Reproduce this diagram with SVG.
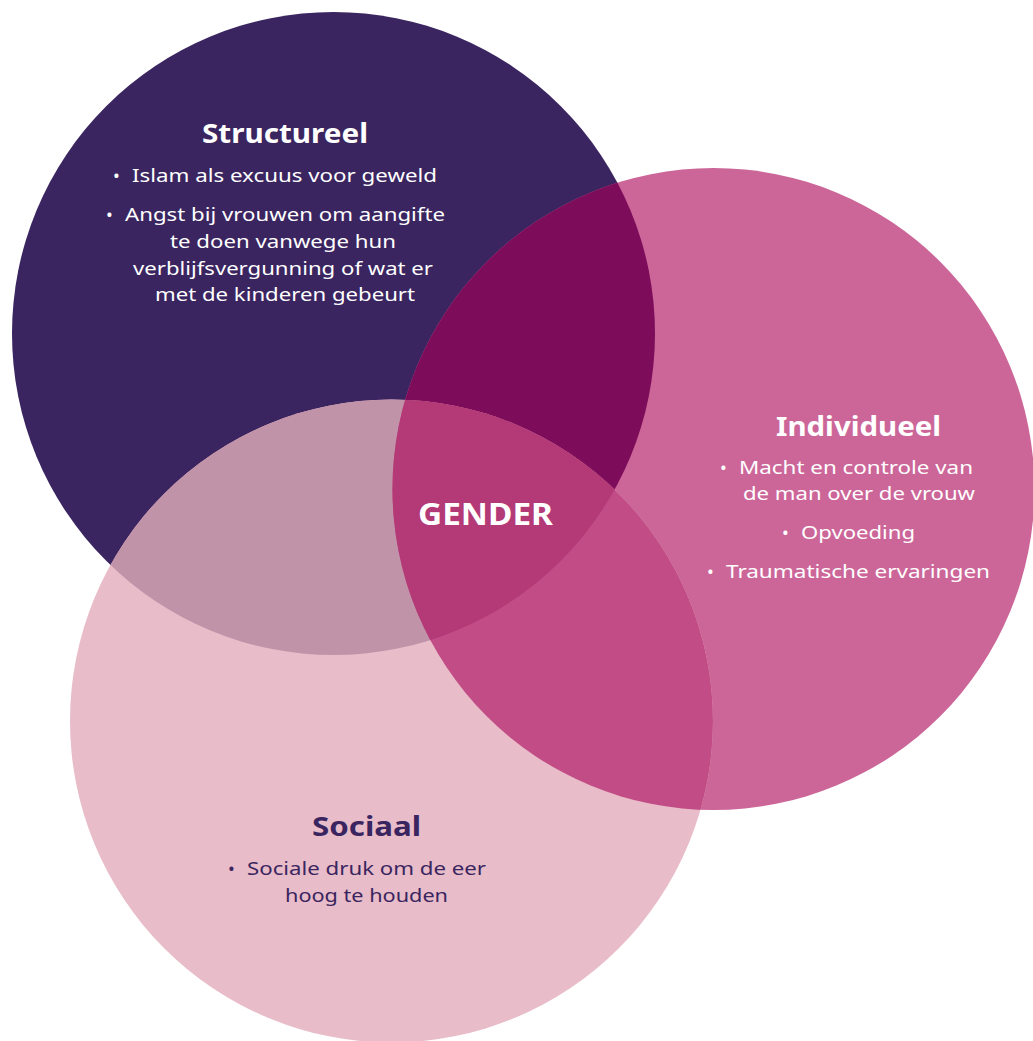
<svg xmlns="http://www.w3.org/2000/svg" width="1033" height="1041" viewBox="0 0 1033 1041">
<style>
.t{font-family:"Noto Sans","Open Sans",sans-serif;fill:#ffffff}
.h{font-size:26px;font-weight:700}
.b{font-size:18px;font-weight:400}
.d{fill:#3a2560}
.g{font-size:31px;font-weight:700}
</style>
<defs>
<clipPath id="c1"><circle cx="333.5" cy="333.5" r="321.5"/></clipPath>
<clipPath id="c2"><circle cx="713.5" cy="489" r="321"/></clipPath>
<clipPath id="c3"><circle cx="391.5" cy="721" r="321.5"/></clipPath>
</defs>
<rect width="1033" height="1041" fill="#ffffff"/>
<g id="circles">
<circle id="structureel-circle" cx="333.5" cy="333.5" r="321.5" fill="#3a2560"/>
<circle id="individueel-circle" cx="713.5" cy="489" r="321" fill="#cc6699"/>
<circle id="sociaal-circle" cx="391.5" cy="721" r="321.5" fill="#e8bcc8"/>
<g clip-path="url(#c1)"><circle cx="713.5" cy="489" r="321" fill="#7d0d5a"/></g>
<g clip-path="url(#c1)"><circle cx="391.5" cy="721" r="321.5" fill="#c193a9"/></g>
<g clip-path="url(#c2)"><circle cx="391.5" cy="721" r="321.5" fill="#c24d86"/></g>
<g clip-path="url(#c1)"><g clip-path="url(#c2)"><circle cx="391.5" cy="721" r="321.5" fill="#b33a76"/></g></g>
</g>
<g id="structureel">
<text class="t h" x="202" y="143" textLength="166" lengthAdjust="spacingAndGlyphs">Structureel</text>
<text class="t b"><tspan x="113" y="182">•</tspan><tspan x="132" y="182" textLength="305" lengthAdjust="spacingAndGlyphs">Islam als excuus voor geweld</tspan></text>
<text class="t b"><tspan x="106" y="221">•</tspan><tspan x="125" y="221" textLength="320" lengthAdjust="spacingAndGlyphs">Angst bij vrouwen om aangifte</tspan></text>
<text class="t b"><tspan x="170" y="248" textLength="226" lengthAdjust="spacingAndGlyphs">te doen vanwege hun</tspan></text>
<text class="t b"><tspan x="133" y="275" textLength="300" lengthAdjust="spacingAndGlyphs">verblijfsvergunning of wat er</tspan></text>
<text class="t b"><tspan x="155" y="301" textLength="260" lengthAdjust="spacingAndGlyphs">met de kinderen gebeurt</tspan></text>
</g>
<g id="individueel">
<text class="t h" x="776" y="436" textLength="165" lengthAdjust="spacingAndGlyphs">Individueel</text>
<text class="t b"><tspan x="720" y="474">•</tspan><tspan x="739" y="474" textLength="234" lengthAdjust="spacingAndGlyphs">Macht en controle van</tspan></text>
<text class="t b"><tspan x="743" y="500" textLength="232" lengthAdjust="spacingAndGlyphs">de man over de vrouw</tspan></text>
<text class="t b"><tspan x="782" y="539">•</tspan><tspan x="801" y="539" textLength="114" lengthAdjust="spacingAndGlyphs">Opvoeding</tspan></text>
<text class="t b"><tspan x="707" y="578">•</tspan><tspan x="726" y="578" textLength="264" lengthAdjust="spacingAndGlyphs">Traumatische ervaringen</tspan></text>
</g>
<g id="gender">
<text class="t g" x="418" y="525" textLength="135" lengthAdjust="spacingAndGlyphs">GENDER</text>
</g>
<g id="sociaal">
<text class="t h d" x="312" y="836" textLength="109" lengthAdjust="spacingAndGlyphs">Sociaal</text>
<text class="t b d"><tspan x="228" y="875">•</tspan><tspan x="247" y="875" textLength="239" lengthAdjust="spacingAndGlyphs">Sociale druk om de eer</tspan></text>
<text class="t b d"><tspan x="285" y="902" textLength="163" lengthAdjust="spacingAndGlyphs">hoog te houden</tspan></text>
</g>
<g id="connectors"/>
</svg>
